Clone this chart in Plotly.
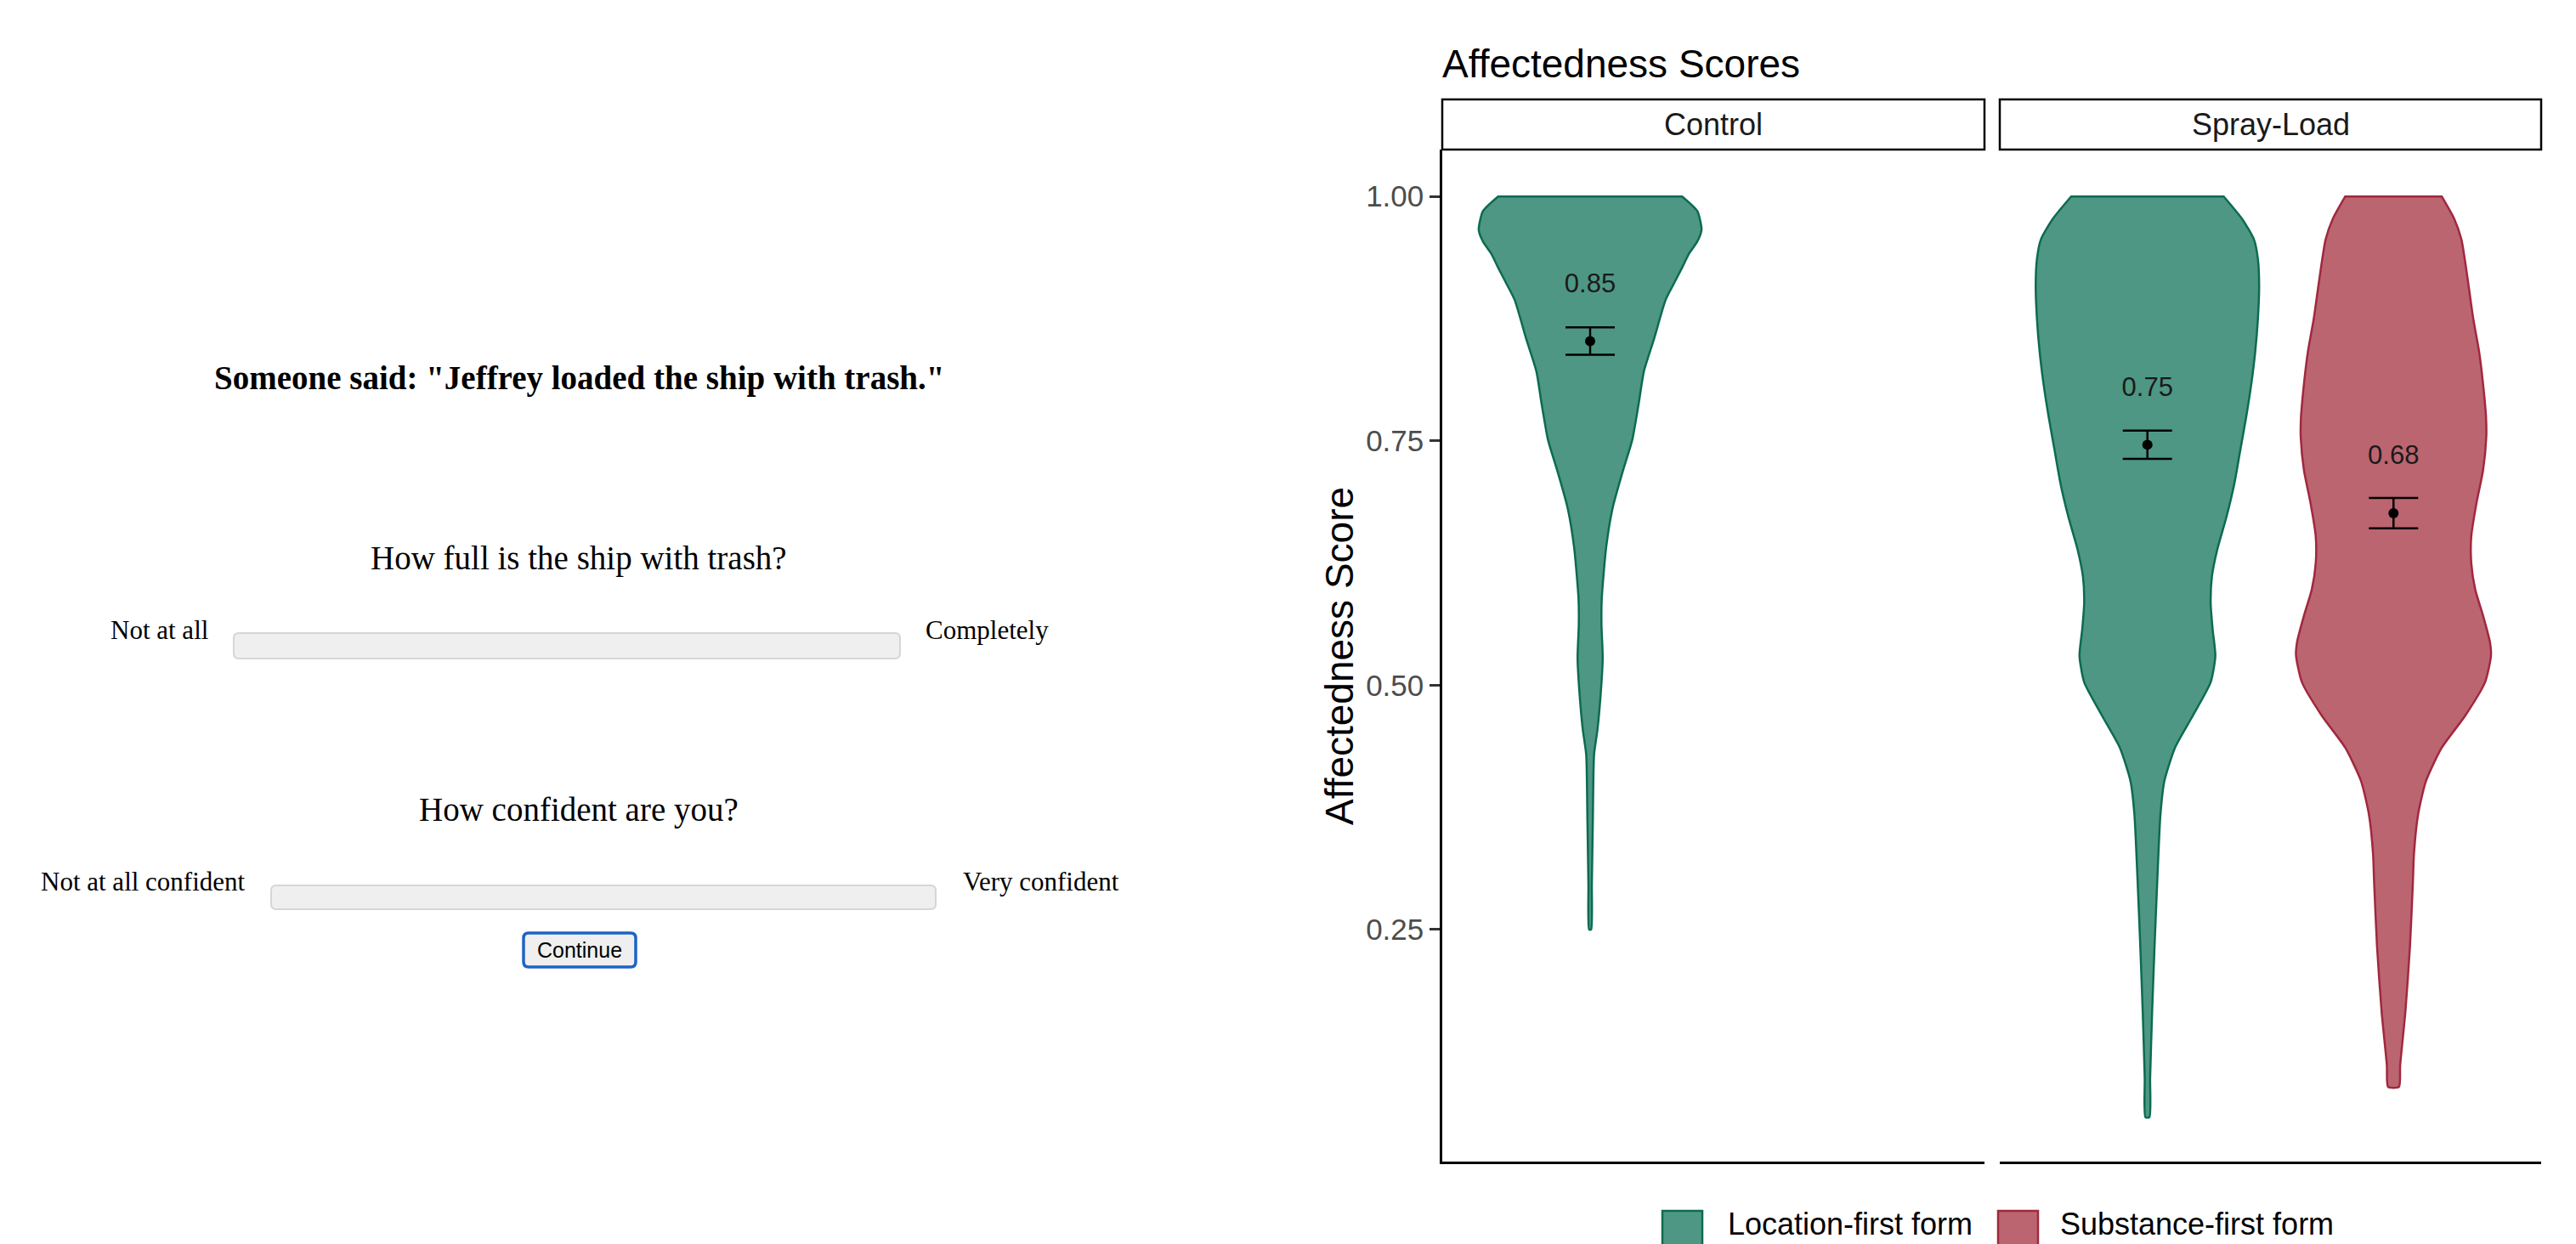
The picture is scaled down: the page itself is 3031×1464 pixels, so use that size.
import plotly.graph_objects as go

W, H = 3031, 1464

# ---------------- data ----------------
conditions = ["Control", "Spray-Load"]
forms = ["Location-first form", "Substance-first form"]
form_pos = [1, 2]

# violin outlines (score level, half-width in x units)
control_loc_y = [1.00, 0.985, 0.966, 0.954, 0.941, 0.927, 0.910, 0.894, 0.854, 0.821, 0.788,
                 0.751, 0.721, 0.681, 0.641, 0.588, 0.562, 0.528, 0.495, 0.455, 0.429, 0.362,
                 0.296, 0.250]
control_loc_w = [0.373, 0.435, 0.452, 0.435, 0.400, 0.373, 0.338, 0.306, 0.259, 0.218, 0.197,
                 0.171, 0.135, 0.091, 0.065, 0.047, 0.046, 0.051, 0.044, 0.030, 0.016, 0.011,
                 0.007, 0.004]

spray_loc_y = [1.000, 0.977, 0.956, 0.936, 0.909, 0.875, 0.841, 0.808, 0.774, 0.740, 0.706,
               0.672, 0.639, 0.611, 0.584, 0.557, 0.530, 0.503, 0.469, 0.436, 0.402, 0.368,
               0.300, 0.233, 0.165, 0.098, 0.058]
spray_loc_w = [0.310, 0.385, 0.433, 0.449, 0.454, 0.449, 0.438, 0.422, 0.401, 0.377, 0.353,
               0.321, 0.284, 0.262, 0.257, 0.265, 0.276, 0.257, 0.185, 0.112, 0.069, 0.053,
               0.040, 0.029, 0.019, 0.011, 0.008]

spray_sub_y = [1.000, 0.977, 0.956, 0.909, 0.875, 0.841, 0.808, 0.774, 0.754, 0.720, 0.686,
               0.652, 0.625, 0.598, 0.571, 0.544, 0.530, 0.503, 0.469, 0.436, 0.402, 0.368,
               0.327, 0.300, 0.233, 0.165, 0.111, 0.089]
spray_sub_w = [0.196, 0.247, 0.276, 0.305, 0.324, 0.348, 0.364, 0.376, 0.377, 0.364, 0.337,
               0.316, 0.316, 0.332, 0.364, 0.392, 0.396, 0.372, 0.292, 0.196, 0.132, 0.100,
               0.083, 0.079, 0.067, 0.048, 0.027, 0.022]

# group summaries: (condition index, form index)
group_cond = [0, 1, 1]
group_form = [0, 0, 1]
group_means = [0.852, 0.746, 0.676]
group_se = [0.014, 0.0145, 0.0155]
violin_y = [control_loc_y, spray_loc_y, spray_sub_y]
violin_w = [control_loc_w, spray_loc_w, spray_sub_w]

fill_colors = ["rgb(78,151,132)", "rgb(187,101,113)"]
line_colors = ["rgb(12,107,80)", "rgb(161,40,62)"]

# ---------------- helpers ----------------
def px(x):
    return x / W

def py(y):
    return 1 - y / H

def rrect(x0, y0, x1, y1, r):
    X0, X1 = px(x0), px(x1)
    Y0, Y1 = py(y0), py(y1)
    rx, ry = r / W, r / H
    return (f"M {X0+rx},{Y0} L {X1-rx},{Y0} Q {X1},{Y0} {X1},{Y0-ry} "
            f"L {X1},{Y1+ry} Q {X1},{Y1} {X1-rx},{Y1} L {X0+rx},{Y1} "
            f"Q {X0},{Y1} {X0},{Y1+ry} L {X0},{Y0-ry} Q {X0},{Y0} {X0+rx},{Y0} Z")

fig = go.Figure()
axes = [("x", "y"), ("x2", "y")]

for g in range(len(group_means)):
    c, f = group_cond[g], group_form[g]
    xa, ya = axes[c]
    cx = form_pos[f]
    ys, ws = violin_y[g], violin_w[g]
    right_x = [cx + w for w in ws]
    left_x = [cx - w for w in reversed(ws)]
    # repeat the flat-top corner points so the spline keeps sharp corners there
    xs = [right_x[0]] + right_x + left_x + [left_x[-1], right_x[0], right_x[0]]
    yy = [ys[0]] + list(ys) + list(reversed(ys)) + [ys[0], ys[0], ys[0]]
    fig.add_trace(go.Scatter(
        x=xs, y=yy, xaxis=xa, yaxis=ya, mode="lines", fill="toself",
        fillcolor=fill_colors[f], line=dict(color=line_colors[f], width=2.5, shape="spline", smoothing=0.6),
        showlegend=False, hoverinfo="skip"))
    fig.add_trace(go.Scatter(
        x=[cx], y=[group_means[g]], xaxis=xa, yaxis=ya, mode="markers",
        marker=dict(color="black", size=12),
        error_y=dict(type="data", array=[group_se[g]], color="black", thickness=2.5, width=29),
        showlegend=False))
    fig.add_trace(go.Scatter(
        x=[cx], y=[group_means[g] + 0.057], xaxis=xa, yaxis=ya, mode="text",
        text=[f"{group_means[g]:.2f}"], textfont=dict(size=31, color="#1a1a1a", family="Liberation Sans"),
        showlegend=False))

# ---------------- layout ----------------
x_dom1 = [px(1697), px(2335)]
x_dom2 = [px(2353), px(2990)]
y_dom = [py(1367), py(176)]

fig.update_layout(
    width=W, height=H, margin=dict(l=0, r=0, t=0, b=0),
    paper_bgcolor="white", plot_bgcolor="white",
    font=dict(family="Liberation Sans", color="black"),
    xaxis=dict(domain=x_dom1, range=[0.4, 2.6], showgrid=False, zeroline=False,
               showticklabels=False, ticks="", showline=True, linecolor="black", linewidth=2.5,
               anchor="y"),
    xaxis2=dict(domain=x_dom2, range=[0.4, 2.6], showgrid=False, zeroline=False,
                showticklabels=False, ticks="", showline=True, linecolor="black", linewidth=2.5,
                anchor="y"),
    yaxis=dict(domain=y_dom, range=[0.0126, 1.048], showgrid=False, zeroline=False,
               tickvals=[0.25, 0.50, 0.75, 1.00], tickformat=".2f",
               ticks="outside", ticklen=12, tickwidth=2.5, tickcolor="#333333",
               tickfont=dict(size=35, color="#4D4D4D"),
               showline=True, linecolor="black", linewidth=2.5, anchor="x"),
)

shapes = []
annotations = []

# strips
for (x0, x1), label in zip([(1697, 2335), (2353, 2990)], conditions):
    shapes.append(dict(type="rect", xref="paper", yref="paper",
                       x0=px(x0), x1=px(x1), y0=py(176), y1=py(117),
                       line=dict(color="black", width=2.5), fillcolor="white"))
    annotations.append(dict(text=label, x=px((x0 + x1) / 2), y=py(147), xref="paper", yref="paper",
                            xanchor="center", yanchor="middle", showarrow=False,
                            font=dict(size=36, color="#1a1a1a")))

# chart title and axis title
annotations.append(dict(text="Affectedness Scores", x=px(1695), y=py(75), xref="paper", yref="paper",
                        xanchor="left", yanchor="middle", showarrow=False, font=dict(size=46)))
annotations.append(dict(text="Affectedness Score", x=px(1576), y=py(772), xref="paper", yref="paper",
                        xanchor="center", yanchor="middle", showarrow=False, textangle=-90,
                        font=dict(size=46)))

# legend
leg_items = [(1956, 2031), (2351, 2422)]
for f, (kx, tx) in enumerate(leg_items):
    shapes.append(dict(type="rect", xref="paper", yref="paper",
                       x0=px(kx), x1=px(kx + 47), y0=py(1472), y1=py(1425),
                       line=dict(color=line_colors[f], width=2.5), fillcolor=fill_colors[f]))
    annotations.append(dict(text=forms[f], x=px(tx), y=py(1440), xref="paper", yref="paper",
                            xanchor="left", yanchor="middle", showarrow=False,
                            font=dict(size=36, color="black")))

# survey screenshot (left)
serif = "Liberation Serif"
annotations.append(dict(text='<b>Someone said: "Jeffrey loaded the ship with trash."</b>',
                        x=px(681), y=py(445), xref="paper", yref="paper", xanchor="center",
                        yanchor="middle", showarrow=False, font=dict(family=serif, size=39)))
annotations.append(dict(text="How full is the ship with trash?", x=px(681), y=py(657),
                        xref="paper", yref="paper", xanchor="center", yanchor="middle",
                        showarrow=False, font=dict(family=serif, size=39)))
annotations.append(dict(text="How confident are you?", x=px(681), y=py(953),
                        xref="paper", yref="paper", xanchor="center", yanchor="middle",
                        showarrow=False, font=dict(family=serif, size=39)))
for text, x, anchor, y in [("Not at all", 247, "right", 741), ("Completely", 1087, "left", 741),
                           ("Not at all confident", 291, "right", 1037),
                           ("Very confident", 1131, "left", 1037)]:
    annotations.append(dict(text=text, x=px(x), y=py(y), xref="paper", yref="paper",
                            xanchor=anchor, yanchor="middle", showarrow=False,
                            font=dict(family=serif, size=31)))

for (x0, y0, x1, y1) in [(275, 745, 1059, 775), (319, 1042, 1101, 1070)]:
    shapes.append(dict(type="path", xref="paper", yref="paper", path=rrect(x0, y0, x1, y1, 6),
                       fillcolor="#EFEFEF", line=dict(color="#D6D6D6", width=2)))

shapes.append(dict(type="path", xref="paper", yref="paper", path=rrect(616, 1098, 748, 1138, 6),
                   fillcolor="#EFEFEF", line=dict(color="#1E63C6", width=3.5)))
annotations.append(dict(text="Continue", x=px(682), y=py(1118), xref="paper", yref="paper",
                        xanchor="center", yanchor="middle", showarrow=False,
                        font=dict(family="Liberation Sans", size=25, color="black")))

fig.update_layout(shapes=shapes, annotations=annotations)
fig.write_html("out.html")
